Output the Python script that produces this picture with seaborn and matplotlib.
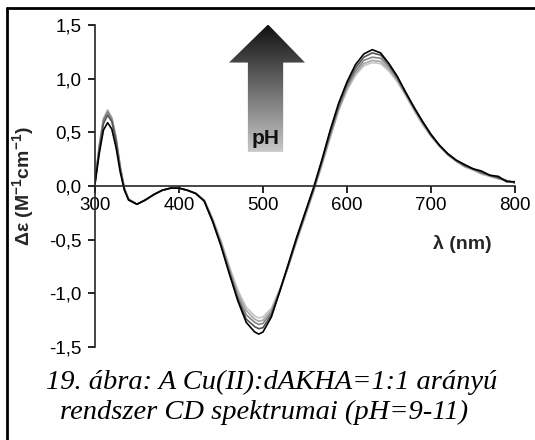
import matplotlib
matplotlib.use("Agg")
import numpy as np
import pandas as pd
import matplotlib.pyplot as plt
import seaborn as sns
from matplotlib.patches import Polygon
from matplotlib.lines import Line2D

sns.set_style("ticks")
plt.rcParams['font.family'] = ['Liberation Sans', 'DejaVu Sans']
plt.rcParams['mathtext.fontset'] = 'custom'
plt.rcParams['mathtext.rm'] = 'Liberation Sans'
plt.rcParams['mathtext.bf'] = 'Liberation Sans:bold'

# wavelengths (nm)
wl = [300, 305, 310, 315, 320, 325, 330, 335, 340,
      350, 360, 370, 380, 390, 400, 410, 420, 430, 440, 450, 460, 470, 480, 490,
      495,
      500, 510, 520, 530, 540, 550, 560, 570, 580, 590, 600, 610, 620, 630, 640,
      650, 660, 670, 680, 690, 700, 710, 720, 730, 740, 750, 760, 770, 780, 790, 800]

# CD spectra, lowest pH (light) -> highest pH (black)
de_1 = [0.03, 0.38, 0.63, 0.71, 0.64, 0.46, 0.19, -0.02, -0.12,
        -0.17, -0.13, -0.08, -0.04, -0.02, -0.02, -0.04, -0.07, -0.13, -0.30, -0.51, -0.75, -0.97, -1.13, -1.21,
        -1.23,
        -1.22, -1.14, -0.96, -0.75, -0.52, -0.29, -0.06, 0.19, 0.45, 0.70, 0.89, 1.03, 1.12, 1.15, 1.14,
        1.07, 0.97, 0.84, 0.70, 0.57, 0.46, 0.37, 0.29, 0.23, 0.18, 0.15, 0.11, 0.09, 0.07, 0.05, 0.03]
de_2 = [0.03, 0.37, 0.62, 0.70, 0.63, 0.45, 0.18, -0.02, -0.12,
        -0.17, -0.13, -0.08, -0.04, -0.02, -0.02, -0.04, -0.07, -0.13, -0.31, -0.52, -0.77, -1.00, -1.16, -1.24,
        -1.26,
        -1.25, -1.16, -0.97, -0.75, -0.51, -0.28, -0.05, 0.20, 0.46, 0.71, 0.91, 1.05, 1.14, 1.17, 1.16,
        1.09, 0.98, 0.85, 0.71, 0.58, 0.47, 0.37, 0.29, 0.23, 0.18, 0.15, 0.12, 0.09, 0.07, 0.05, 0.03]
de_3 = [0.03, 0.36, 0.61, 0.69, 0.62, 0.44, 0.17, -0.03, -0.13,
        -0.17, -0.13, -0.08, -0.04, -0.02, -0.02, -0.04, -0.07, -0.14, -0.32, -0.54, -0.79, -1.03, -1.20, -1.27,
        -1.29,
        -1.28, -1.18, -0.98, -0.75, -0.50, -0.27, -0.04, 0.21, 0.48, 0.73, 0.93, 1.07, 1.17, 1.20, 1.19,
        1.11, 1.00, 0.86, 0.72, 0.59, 0.47, 0.38, 0.30, 0.24, 0.19, 0.16, 0.12, 0.10, 0.07, 0.05, 0.03]
de_4 = [0.03, 0.34, 0.58, 0.66, 0.60, 0.42, 0.16, -0.03, -0.13,
        -0.17, -0.13, -0.08, -0.04, -0.02, -0.02, -0.04, -0.07, -0.14, -0.33, -0.55, -0.81, -1.05, -1.24, -1.31,
        -1.33,
        -1.32, -1.20, -0.98, -0.74, -0.49, -0.26, -0.03, 0.23, 0.50, 0.75, 0.95, 1.10, 1.20, 1.24, 1.22,
        1.13, 1.01, 0.87, 0.73, 0.60, 0.48, 0.38, 0.30, 0.24, 0.19, 0.16, 0.13, 0.10, 0.08, 0.05, 0.03]
de_5 = [0.02, 0.30, 0.52, 0.59, 0.53, 0.36, 0.13, -0.04, -0.13,
        -0.17, -0.13, -0.08, -0.04, -0.02, -0.02, -0.04, -0.07, -0.14, -0.33, -0.56, -0.82, -1.07, -1.27, -1.36,
        -1.38,
        -1.36, -1.22, -0.98, -0.73, -0.48, -0.25, -0.02, 0.24, 0.52, 0.77, 0.97, 1.13, 1.23, 1.27, 1.24,
        1.14, 1.02, 0.87, 0.73, 0.60, 0.48, 0.38, 0.30, 0.24, 0.20, 0.16, 0.14, 0.10, 0.09, 0.04, 0.04]

series = ['s1', 's2', 's3', 's4', 's5']
line_colors = ['#c4c4c4', '#a6a6a6', '#848484', '#555555', '#000000']

yticks = [-1.5, -1.0, -0.5, 0.0, 0.5, 1.0, 1.5]
ytick_labels = ['-1,5', '-1,0', '-0,5', '0,0', '0,5', '1,0', '1,5']
xticks = [300, 400, 500, 600, 700, 800]

df = pd.concat([pd.DataFrame({'wl': wl, 'de': v, 'run': s})
                for s, v in zip(series, [de_1, de_2, de_3, de_4, de_5])])

fig = plt.figure(figsize=(5.35, 4.4), dpi=100)
ax = fig.add_axes([0.1776, 0.2114, 0.785, 0.7318])
sns.lineplot(data=df, x='wl', y='de', hue='run', hue_order=series,
             palette=line_colors, lw=1.2, legend=False, ax=ax,
             estimator=None, sort=False)

ax.set_xlim(300, 800)
ax.set_ylim(-1.5, 1.5)
ax.patch.set_alpha(0)
for s in ['top', 'right']:
    ax.spines[s].set_visible(False)
ax.spines['bottom'].set_position(('data', 0))
for s in ['left', 'bottom']:
    ax.spines[s].set_linewidth(1.2)
ax.set_xticks(xticks)
ax.set_yticks(yticks)
ax.set_yticklabels(ytick_labels)
ax.tick_params(direction='out', length=5, width=1.2, labelsize=13.5, colors='black')
ax.tick_params(axis='y', pad=5)
ax.tick_params(axis='x', pad=3)
ax.set_xlabel('')
ax.set_ylabel('')

# gradient arrow
arrow = Polygon([(482, 0.318), (524, 0.318), (524, 1.15), (550, 1.15),
                 (506, 1.505), (459.5, 1.15), (482, 1.15)], closed=True,
                facecolor='none', edgecolor='none')
ax.add_patch(arrow)
grad = np.linspace(0, 1, 256).reshape(-1, 1)
im = ax.imshow(grad, cmap=sns.blend_palette(['#c8c8c8', '#101010'], as_cmap=True),
               extent=[459.5, 550, 0.318, 1.505], origin='lower', aspect='auto', zorder=3)
im.set_clip_path(arrow)
ax.text(503, 0.44, 'pH', fontsize=15, fontweight='bold', ha='center', va='center',
        color='#111111', zorder=4)

fig.text(24 / 535, 1 - 186 / 440, r'Δε (M$^{\mathbf{-1}}$cm$^{\mathbf{-1}}$)', rotation=90,
         fontsize=14, fontweight='bold', ha='center', va='center')
fig.text(462 / 535, 1 - 244 / 440, 'λ (nm)', fontsize=14, fontweight='bold',
         ha='center', va='center')

fig.text(272 / 535, 1 - 382 / 440, '19. ábra: A Cu(II):dAKHA=1:1 arányú', color='black',
         fontsize=20.5, family='Liberation Serif', style='italic', ha='center', va='center')
fig.text(264 / 535, 1 - 412 / 440, 'rendszer CD spektrumai (pH=9-11)', color='black',
         fontsize=20.5, family='Liberation Serif', style='italic', ha='center', va='center')

# page frame (top and left edges)
fig.add_artist(Line2D([7 / 535, 1.01], [1 - 8 / 440, 1 - 8 / 440], color='black', lw=2,
                      transform=fig.transFigure))
fig.add_artist(Line2D([7 / 535, 7 / 535], [-0.01, 1 - 8 / 440], color='black', lw=2,
                      transform=fig.transFigure))

fig.savefig('out.png', dpi=100)
